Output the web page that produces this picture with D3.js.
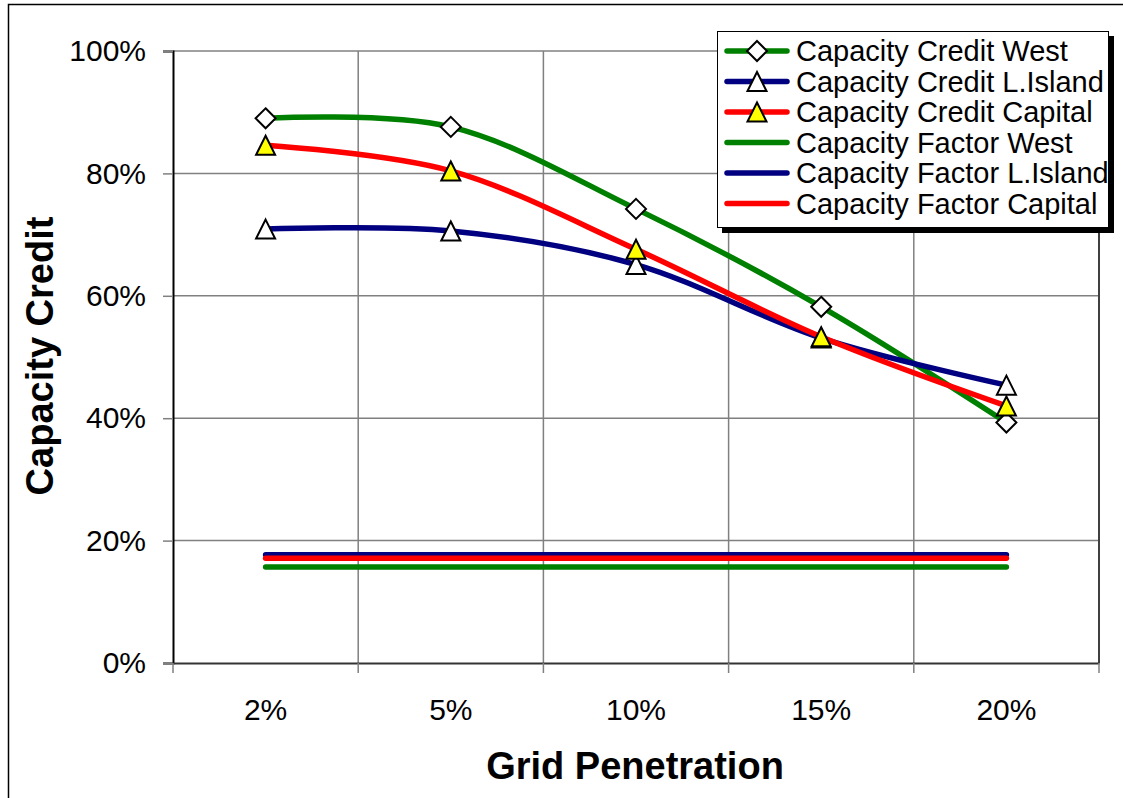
<!DOCTYPE html>
<html><head><meta charset="utf-8">
<script src="https://cdn.jsdelivr.net/npm/d3@7"></script>
<style>body{margin:0;background:#fff}svg{display:block}</style>
</head><body>
<script>
const categories = ["2%", "5%", "10%", "15%", "20%"];
const creditWest = [0.890, 0.876, 0.742, 0.582, 0.393];
const creditLIsland = [0.709, 0.706, 0.651, 0.531, 0.454];
const creditCapital = [0.846, 0.804, 0.676, 0.533, 0.420];
const factorWest = [0.157, 0.157, 0.157, 0.157, 0.157];
const factorLIsland = [0.177, 0.177, 0.177, 0.177, 0.177];
const factorCapital = [0.171, 0.171, 0.171, 0.171, 0.171];
const yTicks = [0, 0.2, 0.4, 0.6, 0.8, 1.0];

const series = [
  {name: "Capacity Credit West", values: creditWest, color: "#008000", marker: "diamond", fill: "#fff", smooth: true},
  {name: "Capacity Credit L.Island", values: creditLIsland, color: "#000080", marker: "triangle", fill: "#fff", smooth: true},
  {name: "Capacity Credit Capital", values: creditCapital, color: "#ff0000", marker: "triangle", fill: "#ffff00", smooth: true},
  {name: "Capacity Factor West", values: factorWest, color: "#008000", marker: null},
  {name: "Capacity Factor L.Island", values: factorLIsland, color: "#000080", marker: null},
  {name: "Capacity Factor Capital", values: factorCapital, color: "#ff0000", marker: null}
];

const W = 1123, H = 798;
const svg = d3.select("body").append("svg").attr("width", W).attr("height", H);
const font = "'Liberation Sans', Arial, sans-serif";

// outer border
svg.append("rect").attr("x", 8.5).attr("y", 4.5).attr("width", 1200).attr("height", 900)
  .attr("fill", "none").attr("stroke", "#000").attr("stroke-width", 1.5);

const L = 173, R = 1099, T = 51, B = 663;
const x = d3.scaleBand().domain(categories).range([L, R]);
const y = d3.scaleLinear().domain([0, 1]).range([B, T]);

// horizontal gridlines
svg.append("g").selectAll("line").data(yTicks.filter(d => d > 0)).join("line")
  .attr("x1", L).attr("x2", R).attr("y1", d => y(d)).attr("y2", d => y(d))
  .attr("stroke", "#808080").attr("stroke-width", 1.5);
// vertical gridlines
const bounds = categories.map(c => x(c)).concat([R]);
svg.append("g").selectAll("line").data(bounds.slice(1, -1)).join("line")
  .attr("x1", d => d).attr("x2", d => d).attr("y1", T).attr("y2", B)
  .attr("stroke", "#808080").attr("stroke-width", 1.5);
// right edge
svg.append("line").attr("x1", R).attr("x2", R).attr("y1", T).attr("y2", B)
  .attr("stroke", "#404040").attr("stroke-width", 2);

// y axis
const yAxis = svg.append("g").attr("transform", `translate(${L},0)`)
  .call(d3.axisLeft(y).tickValues(yTicks).tickFormat(d3.format(".0%")).tickSize(10).tickPadding(17));
yAxis.select(".domain").attr("stroke", "#000").attr("stroke-width", 2);
yAxis.selectAll(".tick line").attr("stroke", "#808080").attr("stroke-width", 1.5);
yAxis.selectAll("text").attr("font-family", font).attr("font-size", 30).attr("fill", "#000");

// x axis
const xAxis = svg.append("g").attr("transform", `translate(0,${B})`)
  .call(d3.axisBottom(x).tickSize(0).tickPadding(36));
xAxis.select(".domain").attr("stroke", "#333").attr("stroke-width", 2);
xAxis.selectAll("text").attr("font-family", font).attr("font-size", 30).attr("fill", "#000");
svg.append("g").selectAll("line").data(bounds).join("line")
  .attr("x1", d => d).attr("x2", d => d).attr("y1", B).attr("y2", B + 10)
  .attr("stroke", "#808080").attr("stroke-width", 1.5);

// axis titles
svg.append("text").attr("x", 635).attr("y", 779).attr("text-anchor", "middle")
  .attr("font-family", font).attr("font-weight", "bold").attr("font-size", 38).text("Grid Penetration");
svg.append("text").attr("transform", "translate(53,356) rotate(-90)").attr("text-anchor", "middle")
  .attr("font-family", font).attr("font-weight", "bold").attr("font-size", 38).text("Capacity Credit");

function markerPath(type, cx, cy) {
  if (type === "diamond") return `M${cx},${cy-10}L${cx+10},${cy}L${cx},${cy+10}L${cx-10},${cy}Z`;
  return `M${cx},${cy-9.5}L${cx+9.5},${cy+9.5}L${cx-9.5},${cy+9.5}Z`;
}

const cx = c => x(c) + x.bandwidth() / 2;
series.forEach(s => {
  const line = d3.line().x((d, i) => cx(categories[i])).y(d => y(d))
    .curve(s.smooth ? d3.curveCardinal.tension(0) : d3.curveLinear);
  svg.append("path").attr("d", line(s.values)).attr("fill", "none")
    .attr("stroke", s.color).attr("stroke-width", 5.5).attr("stroke-linejoin", "round").attr("stroke-linecap", "round");
  if (s.marker) {
    svg.append("g").selectAll("path").data(s.values).join("path")
      .attr("d", (d, i) => markerPath(s.marker, cx(categories[i]), y(d)))
      .attr("fill", s.fill).attr("stroke", "#000").attr("stroke-width", 2);
  }
});

// legend
const lg = svg.append("g");
lg.append("rect").attr("x", 722).attr("y", 36).attr("width", 392).attr("height", 197).attr("fill", "#000");
lg.append("rect").attr("x", 717.5).attr("y", 31.5).attr("width", 391).attr("height", 196)
  .attr("fill", "#fff").attr("stroke", "#000").attr("stroke-width", 1);
series.forEach((s, i) => {
  const yy = 51 + i * 30.5;
  lg.append("line").attr("x1", 727).attr("x2", 787).attr("y1", yy).attr("y2", yy)
    .attr("stroke", s.color).attr("stroke-width", 5.5).attr("stroke-linecap", "round");
  if (s.marker) lg.append("path").attr("d", markerPath(s.marker, 757, yy))
    .attr("fill", s.fill).attr("stroke", "#000").attr("stroke-width", 2);
  lg.append("text").attr("x", 796).attr("y", yy + 10).attr("font-family", font)
    .attr("font-size", 29).text(s.name);
});
</script>
</body></html>
